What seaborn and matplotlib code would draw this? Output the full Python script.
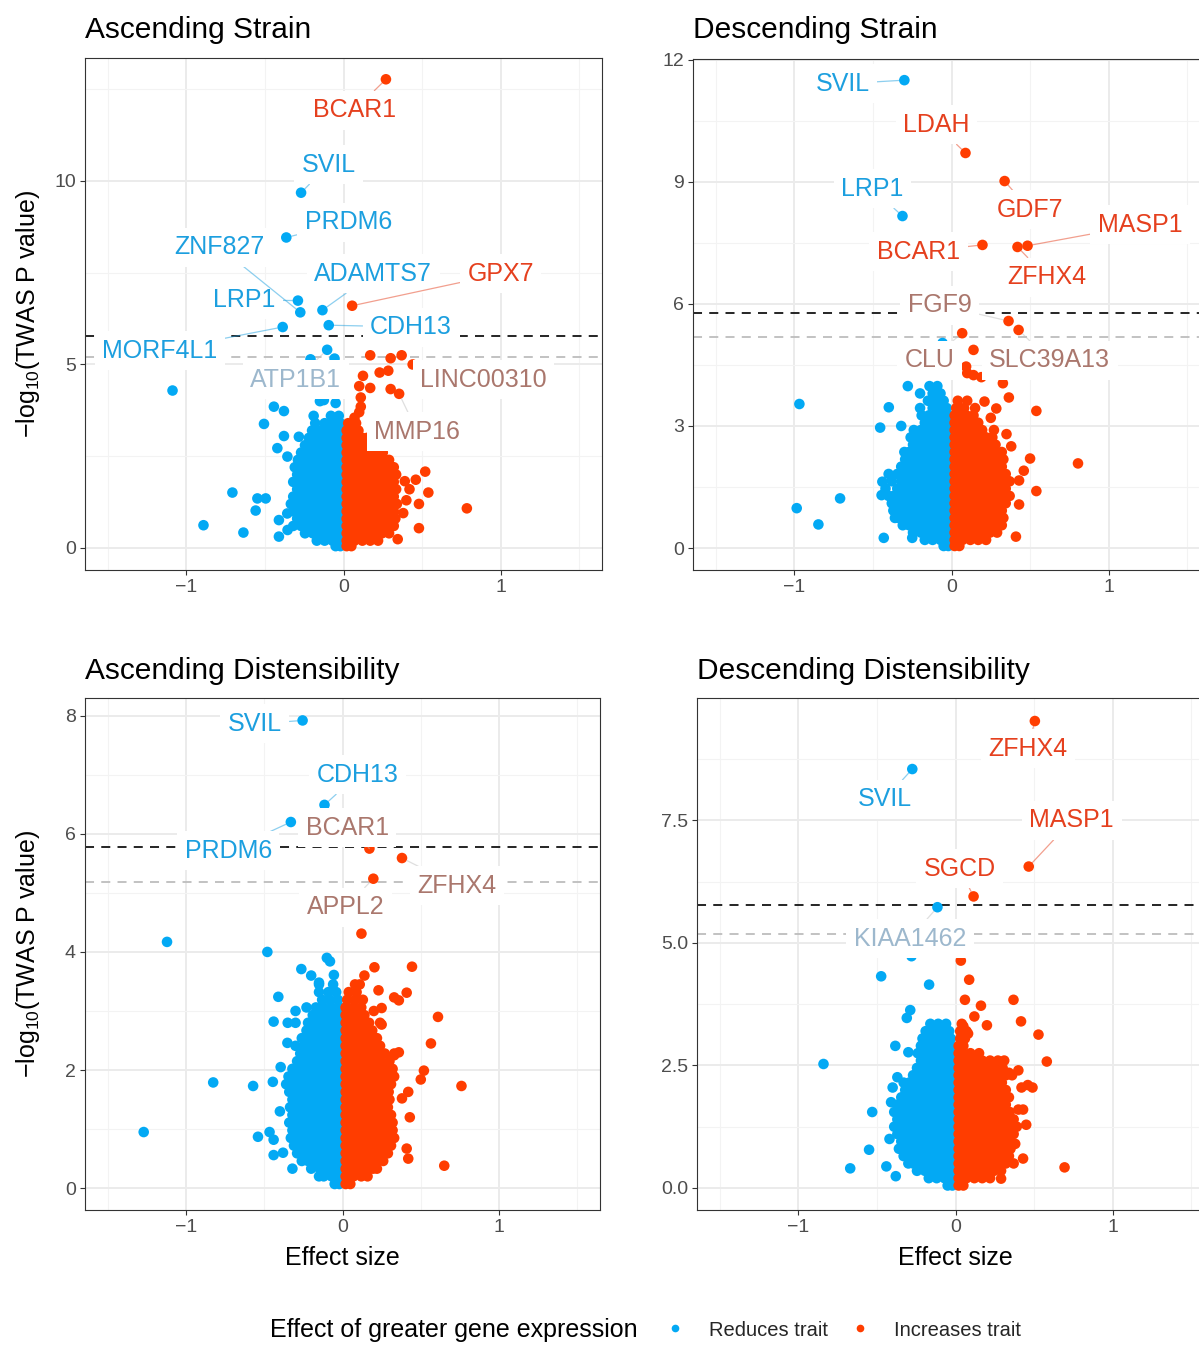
import matplotlib
matplotlib.use("Agg")
import matplotlib.pyplot as plt
from matplotlib.ticker import FixedLocator, FormatStrFormatter
import numpy as np
import pandas as pd
import seaborn as sns

# ======================= DATA =======================
thr_bonf = 5.78   # black dashed
thr_fdr = 5.19    # grey dashed

# ---- Ascending Strain ----
as_blue_rows = [
    (0.05, [-0.02, -0.05]),
    (0.2, [-0.02, -0.07, -0.12, -0.17]),
    (0.4, [-0.02, -0.045, -0.095, -0.145, -0.195, -0.245]),
    (0.6, [-0.02, -0.07, -0.12, -0.17, -0.22, -0.27, -0.32]),
    (0.8, [-0.02, -0.045, -0.095, -0.145, -0.195, -0.245, -0.295]),
    (1.0, [-0.02, -0.07, -0.12, -0.17, -0.22, -0.27, -0.32]),
    (1.2, [-0.02, -0.045, -0.095, -0.145, -0.195, -0.245, -0.295, -0.335]),
    (1.4, [-0.02, -0.07, -0.12, -0.17, -0.22, -0.27, -0.32]),
    (1.6, [-0.02, -0.045, -0.095, -0.145, -0.195, -0.245, -0.295]),
    (1.8, [-0.02, -0.07, -0.12, -0.17, -0.22, -0.27, -0.32]),
    (2.0, [-0.02, -0.045, -0.095, -0.145, -0.195, -0.245, -0.295]),
    (2.2, [-0.02, -0.07, -0.12, -0.17, -0.22, -0.27, -0.31]),
    (2.4, [-0.02, -0.045, -0.095, -0.145, -0.195, -0.245, -0.29]),
    (2.6, [-0.02, -0.07, -0.12, -0.17, -0.22, -0.27]),
    (2.8, [-0.02, -0.045, -0.095, -0.145, -0.195, -0.245]),
    (3.0, [-0.02, -0.07, -0.12, -0.17, -0.22]),
    (3.2, [-0.02, -0.045, -0.095, -0.145, -0.2]),
    (3.4, [-0.02, -0.07, -0.12, -0.18]),
    (3.6, [-0.03, -0.08, -0.19]),
]
as_red_rows = [
    (0.05, [0.02, 0.05]),
    (0.2, [0.02, 0.07, 0.12, 0.17, 0.22]),
    (0.4, [0.02, 0.045, 0.095, 0.145, 0.195, 0.245, 0.29]),
    (0.6, [0.02, 0.07, 0.12, 0.17, 0.22, 0.27, 0.32]),
    (0.8, [0.02, 0.045, 0.095, 0.145, 0.195, 0.245, 0.295, 0.33]),
    (1.0, [0.02, 0.07, 0.12, 0.17, 0.22, 0.27, 0.32]),
    (1.2, [0.02, 0.045, 0.095, 0.145, 0.195, 0.245, 0.295, 0.34]),
    (1.4, [0.02, 0.07, 0.12, 0.17, 0.22, 0.27, 0.32]),
    (1.6, [0.02, 0.045, 0.095, 0.145, 0.195, 0.245, 0.295, 0.335]),
    (1.8, [0.02, 0.07, 0.12, 0.17, 0.22, 0.27, 0.32]),
    (2.0, [0.02, 0.045, 0.095, 0.145, 0.195, 0.245, 0.295, 0.335]),
    (2.2, [0.02, 0.07, 0.12, 0.17, 0.22, 0.27, 0.32]),
    (2.4, [0.02, 0.045, 0.095, 0.145, 0.195, 0.245, 0.29]),
    (2.6, [0.02, 0.07, 0.12, 0.17, 0.22, 0.25]),
    (2.8, [0.02, 0.045, 0.095, 0.145, 0.19]),
    (3.0, [0.02, 0.07, 0.12, 0.15]),
    (3.2, [0.02, 0.045, 0.095]),
    (3.4, [0.03, 0.08]),
    (3.55, [0.07]),
]
as_extra = [
    (-1.088, 4.29), (-0.443, 3.85), (-0.379, 3.73), (-0.506, 3.38), (-0.125, 4.03),
    (-0.05, 3.95), (-0.15, 4.0), (-0.379, 3.05), (-0.284, 3.03), (-0.421, 2.72),
    (-0.357, 2.49), (-0.707, 1.51), (-0.548, 1.35), (-0.495, 1.35), (-0.559, 1.02),
    (-0.411, 0.76), (-0.358, 0.94), (-0.891, 0.62), (-0.637, 0.42), (-0.411, 0.31),
    (-0.356, 0.49), (-0.057, 5.16), (-0.21, 5.14), (-0.13, 4.6),
    (0.52, 2.08), (0.46, 1.86), (0.39, 1.82), (0.42, 1.6), (0.54, 1.51), (0.48, 1.2),
    (0.785, 1.08), (0.48, 0.54), (0.345, 0.24), (0.40, 1.3), (0.38, 0.95),
    (0.17, 5.25), (0.30, 5.17), (0.37, 5.25), (0.124, 4.69), (0.23, 4.78),
    (0.285, 4.83), (0.10, 4.41), (0.17, 4.36), (0.30, 4.33), (0.11, 4.1),
    (0.11, 3.85), (0.10, 3.7),
]
as_genes = [
    ("BCAR1", 0.27, 12.77), ("SVIL", -0.27, 9.68), ("PRDM6", -0.364, 8.46),
    ("LRP1", -0.29, 6.74), ("ZNF827", -0.275, 6.42), ("ADAMTS7", -0.134, 6.48),
    ("GPX7", 0.055, 6.6), ("MORF4L1", -0.387, 6.02), ("CDH13", -0.094, 6.07),
    ("ATP1B1", -0.104, 5.40), ("LINC00310", 0.44, 5.0), ("MMP16", 0.354, 4.2),
]

# ---- Descending Strain ----
ds_blue_rows = [
    (0.05, [-0.02, -0.05]),
    (0.2, [-0.02, -0.07, -0.12, -0.17]),
    (0.38, [-0.02, -0.045, -0.095, -0.145, -0.195, -0.245]),
    (0.56, [-0.02, -0.07, -0.12, -0.17, -0.22, -0.27, -0.31]),
    (0.74, [-0.02, -0.045, -0.095, -0.145, -0.195, -0.245, -0.295, -0.34]),
    (0.92, [-0.02, -0.07, -0.12, -0.17, -0.22, -0.27, -0.32, -0.37]),
    (1.1, [-0.02, -0.045, -0.095, -0.145, -0.195, -0.245, -0.295, -0.345, -0.38]),
    (1.28, [-0.02, -0.07, -0.12, -0.17, -0.22, -0.27, -0.32, -0.37, -0.4]),
    (1.46, [-0.02, -0.045, -0.095, -0.145, -0.195, -0.245, -0.295, -0.345, -0.42]),
    (1.64, [-0.02, -0.07, -0.12, -0.17, -0.22, -0.27, -0.32, -0.38]),
    (1.82, [-0.02, -0.045, -0.095, -0.145, -0.195, -0.245, -0.295, -0.345, -0.4]),
    (2.0, [-0.02, -0.07, -0.12, -0.17, -0.22, -0.27, -0.32]),
    (2.18, [-0.02, -0.045, -0.095, -0.145, -0.195, -0.245, -0.295]),
    (2.36, [-0.02, -0.07, -0.12, -0.17, -0.22, -0.27, -0.3]),
    (2.54, [-0.02, -0.045, -0.095, -0.145, -0.195, -0.245]),
    (2.72, [-0.02, -0.07, -0.12, -0.17, -0.22, -0.26]),
    (2.9, [-0.02, -0.045, -0.095, -0.145, -0.195, -0.24]),
    (3.08, [-0.02, -0.07, -0.12, -0.17]),
    (3.26, [-0.02, -0.045, -0.095, -0.145, -0.19]),
    (3.44, [-0.03, -0.07, -0.12, -0.2]),
    (3.62, [-0.05, -0.1, -0.15]),
    (3.8, [-0.07, -0.12, -0.2]),
    (3.98, [-0.09, -0.14]),
]
ds_red_rows = [
    (0.05, [0.02, 0.05]),
    (0.2, [0.02, 0.07, 0.12, 0.17, 0.22]),
    (0.38, [0.02, 0.045, 0.095, 0.145, 0.195, 0.245, 0.29]),
    (0.56, [0.02, 0.07, 0.12, 0.17, 0.22, 0.27, 0.32]),
    (0.74, [0.02, 0.045, 0.095, 0.145, 0.195, 0.245, 0.295, 0.33]),
    (0.92, [0.02, 0.07, 0.12, 0.17, 0.22, 0.27, 0.32]),
    (1.1, [0.02, 0.045, 0.095, 0.145, 0.195, 0.245, 0.295, 0.345]),
    (1.28, [0.02, 0.07, 0.12, 0.17, 0.22, 0.27, 0.32, 0.37]),
    (1.46, [0.02, 0.045, 0.095, 0.145, 0.195, 0.245, 0.295, 0.345]),
    (1.64, [0.02, 0.07, 0.12, 0.17, 0.22, 0.27, 0.32, 0.37]),
    (1.82, [0.02, 0.045, 0.095, 0.145, 0.195, 0.245, 0.295, 0.345]),
    (2.0, [0.02, 0.07, 0.12, 0.17, 0.22, 0.27, 0.32]),
    (2.18, [0.02, 0.045, 0.095, 0.145, 0.195, 0.245, 0.295, 0.33]),
    (2.36, [0.02, 0.07, 0.12, 0.17, 0.22, 0.27, 0.32]),
    (2.54, [0.02, 0.045, 0.095, 0.145, 0.195, 0.245, 0.28]),
    (2.72, [0.02, 0.07, 0.12, 0.17, 0.22, 0.26]),
    (2.9, [0.02, 0.045, 0.095, 0.145, 0.195, 0.27]),
    (3.08, [0.02, 0.07, 0.12, 0.17]),
    (3.26, [0.02, 0.045, 0.095, 0.14]),
    (3.44, [0.03, 0.08, 0.15]),
    (3.62, [0.04, 0.1]),
]
ds_extra = [
    (-0.968, 3.54), (-0.985, 0.98), (-0.847, 0.58), (-0.709, 1.22), (-0.431, 0.25),
    (-0.454, 2.96), (-0.399, 3.46), (-0.278, 3.98), (-0.32, 3.0), (-0.44, 1.63),
    (-0.445, 1.3), (-0.36, 0.74), (-0.25, 0.25), (-0.057, 5.04),
    (0.14, 4.87), (0.093, 4.46), (0.1, 4.3), (0.14, 4.25), (0.19, 4.2),
    (0.327, 4.05), (0.365, 3.7), (0.54, 3.37), (0.805, 2.08), (0.54, 1.40),
    (0.5, 2.2), (0.46, 1.9), (0.43, 1.66), (0.43, 1.07), (0.41, 0.28),
    (0.285, 3.43), (0.21, 3.6), (0.25, 3.2), (0.35, 2.8), (0.38, 2.5),
]
ds_genes = [
    ("SVIL", -0.30, 11.5), ("LDAH", 0.089, 9.71), ("LRP1", -0.312, 8.16),
    ("GDF7", 0.338, 9.02), ("MASP1", 0.484, 7.43), ("BCAR1", 0.197, 7.45),
    ("ZFHX4", 0.42, 7.40), ("FGF9", 0.363, 5.58), ("CLU", 0.068, 5.28),
    ("SLC39A13", 0.427, 5.36),
]

# ---- Ascending Distensibility ----
ad_blue_rows = [
    (0.07, [-0.02, -0.05]),
    (0.2, [-0.02, -0.07, -0.12, -0.15]),
    (0.33, [-0.02, -0.045, -0.095, -0.145, -0.2]),
    (0.46, [-0.02, -0.07, -0.12, -0.17, -0.22, -0.26]),
    (0.59, [-0.02, -0.045, -0.095, -0.145, -0.195, -0.245, -0.29]),
    (0.72, [-0.02, -0.07, -0.12, -0.17, -0.22, -0.27, -0.31]),
    (0.85, [-0.02, -0.045, -0.095, -0.145, -0.195, -0.245, -0.295, -0.33]),
    (0.98, [-0.02, -0.07, -0.12, -0.17, -0.22, -0.27, -0.32]),
    (1.11, [-0.02, -0.045, -0.095, -0.145, -0.195, -0.245, -0.295, -0.34]),
    (1.24, [-0.02, -0.07, -0.12, -0.17, -0.22, -0.27, -0.32]),
    (1.37, [-0.02, -0.045, -0.095, -0.145, -0.195, -0.245, -0.295, -0.335]),
    (1.5, [-0.02, -0.07, -0.12, -0.17, -0.22, -0.27, -0.32]),
    (1.63, [-0.02, -0.045, -0.095, -0.145, -0.195, -0.245, -0.295, -0.34]),
    (1.76, [-0.02, -0.07, -0.12, -0.17, -0.22, -0.27, -0.32, -0.36]),
    (1.89, [-0.02, -0.045, -0.095, -0.145, -0.195, -0.245, -0.295, -0.345]),
    (2.02, [-0.02, -0.07, -0.12, -0.17, -0.22, -0.27, -0.32]),
    (2.15, [-0.02, -0.045, -0.095, -0.145, -0.195, -0.245, -0.29]),
    (2.28, [-0.02, -0.07, -0.12, -0.17, -0.22, -0.27]),
    (2.41, [-0.02, -0.045, -0.095, -0.145, -0.195, -0.245, -0.3]),
    (2.54, [-0.02, -0.07, -0.12, -0.17, -0.22, -0.26]),
    (2.67, [-0.02, -0.045, -0.095, -0.145, -0.195, -0.23]),
    (2.8, [-0.02, -0.07, -0.12, -0.17, -0.22, -0.3]),
    (2.93, [-0.02, -0.045, -0.095, -0.145, -0.19]),
    (3.06, [-0.02, -0.07, -0.12, -0.17, -0.23]),
    (3.19, [-0.03, -0.08, -0.13]),
    (3.32, [-0.04, -0.09, -0.15]),
    (3.45, [-0.06, -0.15]),
]
ad_red_rows = [
    (0.07, [0.02, 0.05]),
    (0.2, [0.02, 0.07, 0.12, 0.16]),
    (0.33, [0.02, 0.045, 0.095, 0.145, 0.195, 0.22]),
    (0.46, [0.02, 0.07, 0.12, 0.17, 0.22, 0.26]),
    (0.59, [0.02, 0.045, 0.095, 0.145, 0.195, 0.245, 0.29]),
    (0.72, [0.02, 0.07, 0.12, 0.17, 0.22, 0.27, 0.31]),
    (0.85, [0.02, 0.045, 0.095, 0.145, 0.195, 0.245, 0.295, 0.33]),
    (0.98, [0.02, 0.07, 0.12, 0.17, 0.22, 0.27, 0.32]),
    (1.11, [0.02, 0.045, 0.095, 0.145, 0.195, 0.245, 0.295, 0.32]),
    (1.24, [0.02, 0.07, 0.12, 0.17, 0.22, 0.27, 0.31]),
    (1.37, [0.02, 0.045, 0.095, 0.145, 0.195, 0.245, 0.29]),
    (1.5, [0.02, 0.07, 0.12, 0.17, 0.22, 0.27, 0.3]),
    (1.63, [0.02, 0.045, 0.095, 0.145, 0.195, 0.245, 0.295]),
    (1.76, [0.02, 0.07, 0.12, 0.17, 0.22, 0.27, 0.31]),
    (1.89, [0.02, 0.045, 0.095, 0.145, 0.195, 0.245, 0.295, 0.33]),
    (2.02, [0.02, 0.07, 0.12, 0.17, 0.22, 0.27, 0.32]),
    (2.15, [0.02, 0.045, 0.095, 0.145, 0.195, 0.245, 0.3]),
    (2.28, [0.02, 0.07, 0.12, 0.17, 0.22, 0.27, 0.33]),
    (2.41, [0.02, 0.045, 0.095, 0.145, 0.195, 0.24]),
    (2.54, [0.02, 0.07, 0.12, 0.17, 0.22]),
    (2.67, [0.02, 0.045, 0.095, 0.145, 0.19]),
    (2.8, [0.02, 0.07, 0.12, 0.17, 0.24]),
    (2.93, [0.02, 0.045, 0.095, 0.14]),
    (3.06, [0.02, 0.07, 0.12]),
    (3.19, [0.03, 0.08, 0.13]),
    (3.32, [0.04, 0.09]),
    (3.45, [0.08, 0.11]),
]
ad_extra = [
    (-1.121, 4.17), (-0.48, 4.0), (-1.27, 0.95), (-0.826, 1.79), (-0.571, 1.73),
    (-0.445, 1.8), (-0.41, 3.24), (-0.44, 2.82), (-0.263, 3.71), (-0.1, 3.9),
    (-0.08, 3.84), (-0.055, 3.61), (-0.15, 3.48), (-0.352, 2.46), (-0.395, 2.05),
    (-0.54, 0.87), (-0.466, 0.95), (-0.44, 0.82), (-0.44, 0.56), (-0.32, 0.33),
    (-0.38, 0.6), (-0.4, 1.3), (-0.2, 3.6), (-0.3, 3.0), (-0.35, 2.8),
    (0.204, 3.74), (0.444, 3.75), (0.14, 3.6), (0.23, 3.35), (0.41, 3.31),
    (0.33, 3.23), (0.36, 3.18), (0.61, 2.9), (0.25, 2.77), (0.565, 2.45),
    (0.52, 1.99), (0.5, 1.84), (0.76, 1.73), (0.42, 1.63), (0.38, 1.52),
    (0.43, 1.2), (0.41, 0.67), (0.42, 0.5), (0.65, 0.38), (0.2, 3.0),
    (0.25, 3.05), (0.36, 2.3), (0.33, 2.25), (0.121, 4.31),
]
ad_genes = [
    ("SVIL", -0.255, 7.92), ("CDH13", -0.115, 6.49), ("PRDM6", -0.33, 6.2),
    ("BCAR1", 0.172, 5.75), ("ZFHX4", 0.38, 5.59), ("APPL2", 0.197, 5.24),
]

# ---- Descending Distensibility ----
dd_blue_rows = [
    (0.05, [-0.02, -0.05]),
    (0.2, [-0.02, -0.07, -0.12, -0.17]),
    (0.35, [-0.02, -0.045, -0.095, -0.145, -0.195, -0.245]),
    (0.5, [-0.02, -0.07, -0.12, -0.17, -0.22, -0.27, -0.3]),
    (0.65, [-0.02, -0.045, -0.095, -0.145, -0.195, -0.245, -0.295, -0.33]),
    (0.8, [-0.02, -0.07, -0.12, -0.17, -0.22, -0.27, -0.32, -0.36]),
    (0.95, [-0.02, -0.045, -0.095, -0.145, -0.195, -0.245, -0.295, -0.345]),
    (1.1, [-0.02, -0.07, -0.12, -0.17, -0.22, -0.27, -0.32, -0.37]),
    (1.25, [-0.02, -0.045, -0.095, -0.145, -0.195, -0.245, -0.295, -0.345, -0.39]),
    (1.4, [-0.02, -0.07, -0.12, -0.17, -0.22, -0.27, -0.32, -0.37]),
    (1.55, [-0.02, -0.045, -0.095, -0.145, -0.195, -0.245, -0.295, -0.345, -0.39]),
    (1.7, [-0.02, -0.07, -0.12, -0.17, -0.22, -0.27, -0.32, -0.37]),
    (1.85, [-0.02, -0.045, -0.095, -0.145, -0.195, -0.245, -0.295, -0.345]),
    (2.0, [-0.02, -0.07, -0.12, -0.17, -0.22, -0.27, -0.32]),
    (2.15, [-0.02, -0.045, -0.095, -0.145, -0.195, -0.245, -0.295, -0.33]),
    (2.3, [-0.02, -0.07, -0.12, -0.17, -0.22, -0.27]),
    (2.45, [-0.02, -0.045, -0.095, -0.145, -0.195, -0.245]),
    (2.6, [-0.02, -0.07, -0.12, -0.17, -0.22]),
    (2.75, [-0.02, -0.045, -0.095, -0.145, -0.195, -0.24]),
    (2.9, [-0.03, -0.07, -0.12, -0.17, -0.22]),
    (3.05, [-0.03, -0.06, -0.11, -0.16, -0.21]),
    (3.2, [-0.04, -0.09, -0.14, -0.19]),
    (3.35, [-0.06, -0.11, -0.16]),
]
dd_red_rows = [
    (0.05, [0.02, 0.05]),
    (0.2, [0.02, 0.07, 0.12, 0.17, 0.22]),
    (0.35, [0.02, 0.045, 0.095, 0.145, 0.195, 0.245, 0.29]),
    (0.5, [0.02, 0.07, 0.12, 0.17, 0.22, 0.27, 0.32, 0.37]),
    (0.65, [0.02, 0.045, 0.095, 0.145, 0.195, 0.245, 0.295, 0.34]),
    (0.8, [0.02, 0.07, 0.12, 0.17, 0.22, 0.27, 0.32, 0.35]),
    (0.95, [0.02, 0.045, 0.095, 0.145, 0.195, 0.245, 0.295, 0.34]),
    (1.1, [0.02, 0.07, 0.12, 0.17, 0.22, 0.27, 0.32, 0.37]),
    (1.25, [0.02, 0.045, 0.095, 0.145, 0.195, 0.245, 0.295, 0.345, 0.39]),
    (1.4, [0.02, 0.07, 0.12, 0.17, 0.22, 0.27, 0.32, 0.37]),
    (1.55, [0.02, 0.045, 0.095, 0.145, 0.195, 0.245, 0.295, 0.345]),
    (1.7, [0.02, 0.07, 0.12, 0.17, 0.22, 0.27, 0.32]),
    (1.85, [0.02, 0.045, 0.095, 0.145, 0.195, 0.245, 0.295, 0.34]),
    (2.0, [0.02, 0.07, 0.12, 0.17, 0.22, 0.27, 0.32]),
    (2.15, [0.02, 0.045, 0.095, 0.145, 0.195, 0.245, 0.295]),
    (2.3, [0.02, 0.07, 0.12, 0.17, 0.22, 0.27, 0.32, 0.36]),
    (2.45, [0.02, 0.045, 0.095, 0.145, 0.195, 0.245, 0.3]),
    (2.6, [0.02, 0.07, 0.12, 0.17, 0.22, 0.27]),
    (2.75, [0.02, 0.045, 0.095, 0.15]),
    (2.9, [0.02, 0.05]),
    (3.05, [0.03, 0.06]),
    (3.2, [0.03, 0.07]),
    (3.35, [0.04]),
]
dd_extra = [
    (-0.473, 4.32), (-0.168, 4.15), (-0.288, 3.63), (-0.31, 3.47), (-0.84, 2.53),
    (-0.383, 2.9), (-0.3, 2.77), (-0.53, 1.55), (-0.55, 0.78), (-0.67, 0.4),
    (-0.44, 0.44), (-0.38, 0.24), (-0.37, 2.26), (-0.4, 2.05), (-0.41, 1.75),
    (-0.42, 1.0), (-0.28, 4.73),
    (0.034, 4.64), (0.087, 4.25), (0.06, 3.84), (0.162, 3.72), (0.369, 3.84),
    (0.12, 3.5), (0.2, 3.32), (0.417, 3.4), (0.528, 3.13), (0.581, 2.58),
    (0.05, 3.3), (0.08, 3.15), (0.42, 2.05), (0.49, 2.05), (0.46, 2.1),
    (0.694, 0.42), (0.29, 0.19), (0.4, 1.6), (0.43, 1.6), (0.45, 1.29),
    (0.34, 2.35), (0.4, 2.4), (0.38, 0.9), (0.43, 0.6), (0.31, 2.6),
]
dd_genes = [
    ("ZFHX4", 0.505, 9.53), ("SVIL", -0.275, 8.55), ("MASP1", 0.466, 6.56),
    ("SGCD", 0.115, 5.95), ("KIAA1462", -0.115, 5.73),
]

panel_titles = ["Ascending Strain", "Descending Strain",
                "Ascending Distensibility", "Descending Distensibility"]
x_ticks = [-1, 0, 1]
y_ticks = [[0, 5, 10], [0, 3, 6, 9, 12], [0, 2, 4, 6, 8], [0, 2.5, 5.0, 7.5]]
legend_title = "Effect of greater gene expression"
hue_labels = ["Reduces trait", "Increases trait"]

# ======================= LAYOUT / STYLE =======================
W, H = 1199, 1345
BLUE, RED = "#03A9F4", "#FF3D00"
TXT_BLUE, TXT_RED = "#1C9FDF", "#E5401E"
FADE_BLUE, FADE_RED = "#9DB8CD", "#AA776D"

axes_px = [(85, 58, 602, 570), (693, 59, 1210, 570),
           (85, 698, 600, 1210), (697, 698, 1214, 1210)]
ylims = [(-0.6, 13.35), (-0.54, 12.02), (-0.37, 8.3), (-0.45, 10.0)]
xlim = (-1.645, 1.645)
title_px = [(85, 38), (693, 38), (85, 679), (697, 679)]

label_pos = [
    {"BCAR1": (0.07, 11.93), "SVIL": (-0.095, 10.44), "PRDM6": (0.03, 8.88),
     "ZNF827": (-0.79, 8.2), "ADAMTS7": (0.19, 7.47), "GPX7": (1.0, 7.47),
     "LRP1": (-0.63, 6.76), "MORF4L1": (-1.17, 5.37), "CDH13": (0.43, 6.02),
     "ATP1B1": (-0.305, 4.58), "LINC00310": (0.89, 4.58), "MMP16": (0.47, 3.16)},
    {"SVIL": (-0.694, 11.41), "LDAH": (-0.096, 10.4), "LRP1": (-0.503, 8.83),
     "GDF7": (0.497, 8.31), "MASP1": (1.2, 7.94), "BCAR1": (-0.21, 7.28),
     "ZFHX4": (0.605, 6.66), "FGF9": (-0.076, 5.97), "CLU": (-0.14, 4.62),
     "SLC39A13": (0.624, 4.62)},
    {"SVIL": (-0.56, 7.86), "CDH13": (0.096, 7.0), "PRDM6": (-0.73, 5.71),
     "BCAR1": (0.03, 6.1), "ZFHX4": (0.73, 5.12), "APPL2": (0.02, 4.76)},
    {"ZFHX4": (0.46, 8.96), "SVIL": (-0.45, 7.93), "MASP1": (0.74, 7.5),
     "SGCD": (0.026, 6.52), "KIAA1462": (-0.29, 5.09)},
]

sns.set_theme(style="white")
plt.rcParams["font.family"] = ["Liberation Sans", "DejaVu Sans"]
plt.rcParams["mathtext.fontset"] = "custom"
plt.rcParams["mathtext.rm"] = "Liberation Sans"
plt.rcParams["mathtext.default"] = "regular"


def build_df(blue_rows, red_rows, extra, genes):
    xs, ys = [], []
    for yv, xlist in blue_rows + red_rows:
        for xv in xlist:
            xs.append(xv)
            ys.append(yv)
    for xv, yv in extra:
        xs.append(xv)
        ys.append(yv)
    for _, xv, yv in genes:
        xs.append(xv)
        ys.append(yv)
    df = pd.DataFrame({"effect": xs, "logp": ys})
    df["direction"] = np.where(df["effect"] < 0, hue_labels[0], hue_labels[1])
    return df


panels = [
    (as_blue_rows, as_red_rows, as_extra, as_genes),
    (ds_blue_rows, ds_red_rows, ds_extra, ds_genes),
    (ad_blue_rows, ad_red_rows, ad_extra, ad_genes),
    (dd_blue_rows, dd_red_rows, dd_extra, dd_genes),
]

fig = plt.figure(figsize=(W / 100, H / 100), dpi=100)
fig.patch.set_facecolor("white")

legend_handles = None
for i, (br, rr, ex, genes) in enumerate(panels):
    l, t, r, b = axes_px[i]
    ax = fig.add_axes([l / W, 1 - b / H, (r - l) / W, (b - t) / H])
    df = build_df(br, rr, ex, genes)
    sns.scatterplot(data=df, x="effect", y="logp", hue="direction",
                    hue_order=hue_labels, palette={hue_labels[0]: BLUE, hue_labels[1]: RED},
                    s=58, linewidth=0, ax=ax, legend=(i == 0), zorder=2)
    if i == 0:
        leg = ax.get_legend()
        legend_handles = list(leg.legend_handles)
        leg.remove()

    ax.axhline(thr_fdr, color="#BDBDBD", lw=1.3, dashes=(5, 4), zorder=1.5)
    ax.axhline(thr_bonf, color="#141414", lw=1.3, dashes=(5, 4), zorder=1.5)

    ax.set_xlim(*xlim)
    ax.set_ylim(*ylims[i])
    ax.xaxis.set_major_locator(FixedLocator(x_ticks))
    ax.xaxis.set_minor_locator(FixedLocator([-1.5, -0.5, 0.5, 1.5]))
    yt = y_ticks[i]
    step = yt[1] - yt[0]
    ax.yaxis.set_major_locator(FixedLocator(yt))
    ax.yaxis.set_minor_locator(FixedLocator([v + step / 2 for v in yt]))
    if i == 3:
        ax.yaxis.set_major_formatter(FormatStrFormatter("%.1f"))
    ax.set_axisbelow(True)
    ax.grid(which="major", color="#EBEBEB", lw=1.4)
    ax.grid(which="minor", color="#F3F3F3", lw=0.8)
    ax.tick_params(which="major", length=3.5, width=0.8, color="#333333",
                   labelsize=14, labelcolor="#4D4D4D", pad=3, direction="out",
                   bottom=True, left=True)
    ax.tick_params(which="minor", length=0)
    for sp in ax.spines.values():
        sp.set_color("#333333")
        sp.set_linewidth(0.8)
        sp.set_visible(True)
    ax.set_xlabel("")
    ax.set_ylabel("")

    # gene labels
    for gene, gx, gy in genes:
        tx, ty = label_pos[i][gene]
        sig = gy >= thr_bonf
        if gx < 0:
            col = TXT_BLUE if sig else FADE_BLUE
        else:
            col = TXT_RED if sig else FADE_RED
        seg = col if sig else "#BFBFBF"
        ax.annotate(gene, xy=(gx, gy), xytext=(tx, ty), textcoords="data",
                    ha="center", va="center", fontsize=18, color=col, zorder=6,
                    bbox=dict(boxstyle="square,pad=0.3", fc="white", ec="none"),
                    arrowprops=dict(arrowstyle="-", color=seg, alpha=0.5, lw=0.9,
                                    shrinkA=0, shrinkB=4))

    tx, ty = title_px[i]
    fig.text(tx / W, 1 - ty / H, panel_titles[i], fontsize=21.5, ha="left",
             va="baseline", color="black")

# axis titles
for cy in (314, 954):
    fig.text(28 / W, 1 - cy / H, "$-$log$_{10}$(TWAS P value)", rotation=90,
             ha="center", va="center", fontsize=18, color="black")
for cx in (342.5, 955.5):
    fig.text(cx / W, 1 - 1258 / H, "Effect size", ha="center", va="center",
             fontsize=18, color="black")

# legend
fig.text(270 / W, 1 - 1330 / H, legend_title, ha="left", va="center",
         fontsize=18, color="black")
for h in legend_handles:
    if hasattr(h, "set_markersize"):
        h.set_markersize(5.5)
    elif hasattr(h, "set_sizes"):
        h.set_sizes([30])
fig.legend(legend_handles, hue_labels, loc="center left",
           bbox_to_anchor=(665 / W, 1 - 1330 / H), ncol=2, frameon=False,
           fontsize=14.5, handlelength=1.0, handletextpad=1.2, columnspacing=1.05,
           borderpad=0, borderaxespad=0)

fig.savefig("out.png", dpi=100, facecolor="white")
